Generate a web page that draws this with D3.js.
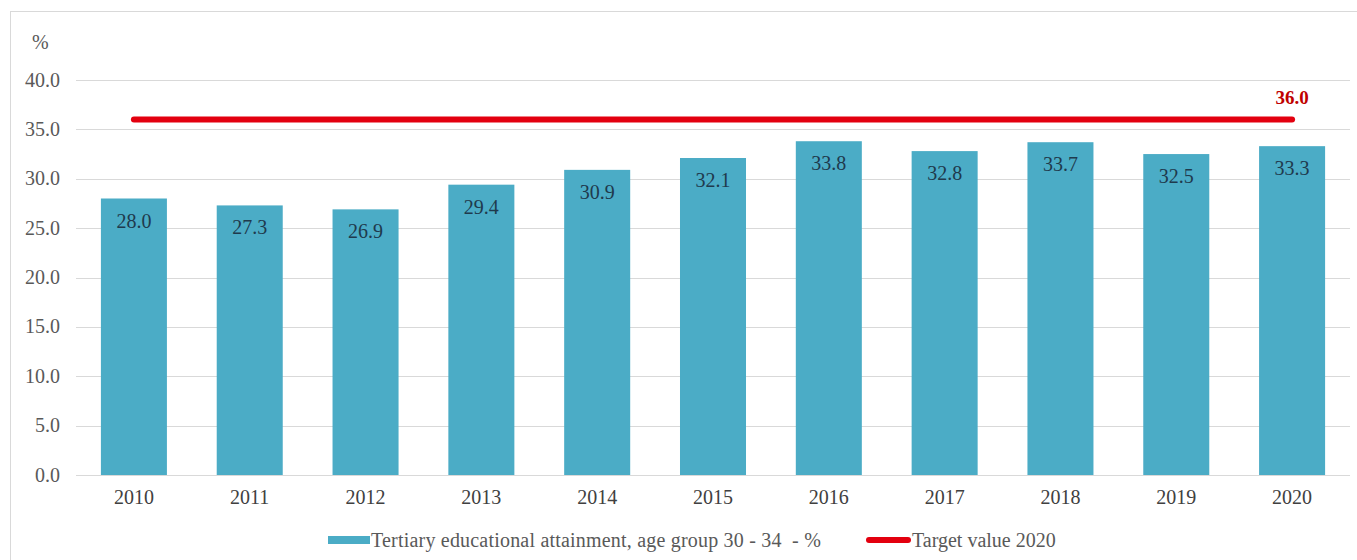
<!DOCTYPE html>
<html>
<head>
<meta charset="utf-8">
<script src="https://cdn.jsdelivr.net/npm/d3@7"></script>
<style>
  body { margin: 0; background: #fff; }
  svg { display: block; }
</style>
</head>
<body>
<svg id="chart" width="1357" height="560" font-family="'Liberation Serif', 'DejaVu Serif', serif"></svg>
<script>
const years = ["2010", "2011", "2012", "2013", "2014", "2015", "2016", "2017", "2018", "2019", "2020"];
const attainment = [28.0, 27.3, 26.9, 29.4, 30.9, 32.1, 33.8, 32.8, 33.7, 32.5, 33.3];
const target = 36.0;
const yTicks = [0, 5, 10, 15, 20, 25, 30, 35, 40];
const seriesNames = ["Tertiary educational attainment, age group 30 - 34  - %", "Target value 2020"];

const margin = { top: 80, right: 7, bottom: 85, left: 76 },
      width = 1357 - margin.left - margin.right,
      height = 560 - margin.top - margin.bottom;

const svg = d3.select("#chart");

// outer frame
svg.append("rect")
  .attr("x", 10.5).attr("y", 11.5)
  .attr("width", 1357).attr("height", 560)
  .attr("fill", "none")
  .attr("stroke", "#d9d9d9");

const g = svg.append("g")
  .attr("transform", `translate(${margin.left},${margin.top})`);

const x = d3.scaleBand().domain(years).range([0, width]).paddingInner(0.43).paddingOuter(0.215);
const y = d3.scaleLinear().domain([0, 40]).range([height, 0]);

// gridlines
g.selectAll(".grid")
  .data(yTicks)
  .enter().append("line")
  .attr("x1", 0).attr("x2", width)
  .attr("y1", d => Math.round(y(d)) + 0.5).attr("y2", d => Math.round(y(d)) + 0.5)
  .attr("stroke", "#d9d9d9");

// y labels
g.selectAll(".ylab")
  .data(yTicks)
  .enter().append("text")
  .attr("x", -16)
  .attr("y", d => y(d))
  .attr("dy", "0.33em")
  .attr("text-anchor", "end")
  .attr("font-size", "20px")
  .attr("fill", "#595959")
  .text(d => d.toFixed(1));

svg.append("text")
  .attr("x", 32).attr("y", 49)
  .attr("font-size", "20px")
  .attr("fill", "#595959")
  .text("%");

// bars
g.selectAll(".bar")
  .data(attainment)
  .enter().append("rect")
  .attr("x", (d, i) => x(years[i]))
  .attr("y", d => y(d))
  .attr("width", x.bandwidth())
  .attr("height", d => y(0) - y(d))
  .attr("fill", "#4bacc6");

g.selectAll(".barlab")
  .data(attainment)
  .enter().append("text")
  .attr("x", (d, i) => x(years[i]) + x.bandwidth() / 2)
  .attr("y", d => y(d) + 29)
  .attr("text-anchor", "middle")
  .attr("font-size", "20px")
  .attr("fill", "#1f3a4d")
  .text(d => d.toFixed(1));

// target line
const cx = yr => x(yr) + x.bandwidth() / 2;
g.append("line")
  .attr("x1", cx(years[0])).attr("x2", cx(years[years.length - 1]))
  .attr("y1", y(target)).attr("y2", y(target))
  .attr("stroke", "#e3000f")
  .attr("stroke-width", 6)
  .attr("stroke-linecap", "round");

g.append("text")
  .attr("x", cx(years[years.length - 1]))
  .attr("y", y(target) - 16)
  .attr("text-anchor", "middle")
  .attr("font-size", "19px")
  .attr("font-weight", "bold")
  .attr("fill", "#c00000")
  .text(target.toFixed(1));

// x labels
g.selectAll(".xlab")
  .data(years)
  .enter().append("text")
  .attr("x", d => cx(d))
  .attr("y", height + 29)
  .attr("text-anchor", "middle")
  .attr("font-size", "20px")
  .attr("fill", "#404040")
  .text(d => d);

// legend
const leg = svg.append("g");
leg.append("rect")
  .attr("x", 328).attr("y", 536)
  .attr("width", 42).attr("height", 8)
  .attr("fill", "#4bacc6");
leg.append("text")
  .attr("x", 371).attr("y", 547)
  .attr("font-size", "20px")
  .attr("letter-spacing", "0.2px")
  .attr("fill", "#595959")
  .style("white-space", "pre")
  .text(seriesNames[0]);
leg.append("line")
  .attr("x1", 869).attr("x2", 908)
  .attr("y1", 540).attr("y2", 540)
  .attr("stroke", "#e3000f")
  .attr("stroke-width", 6)
  .attr("stroke-linecap", "round");
leg.append("text")
  .attr("x", 912).attr("y", 547)
  .attr("font-size", "20px")
  .attr("fill", "#595959")
  .text(seriesNames[1]);
</script>
</body>
</html>
